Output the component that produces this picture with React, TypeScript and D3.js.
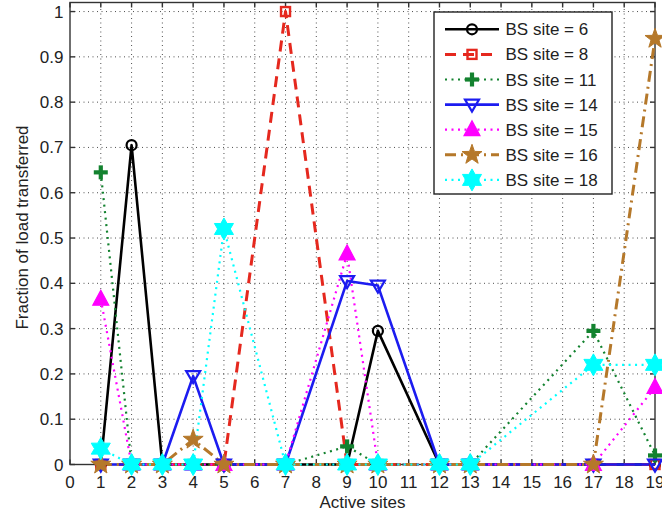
import React from "react";
import * as d3 from "d3";

const activeSites = [1, 2, 3, 4, 5, 7, 9, 10, 12, 13, 17, 19];
const bs6 = [0, 0.705, 0, 0, 0, 0, 0, 0.295, 0, 0, 0, 0];
const bs8 = [0, 0, 0, 0, 0, 1.0, 0, 0, 0, 0, 0, 0];
const bs11 = [0.645, 0, 0, 0, 0, 0, 0.04, 0, 0, 0, 0.295, 0.02];
const bs14 = [0, 0, 0, 0.195, 0, 0, 0.405, 0.395, 0, 0, 0, 0];
const bs15 = [0.365, 0, 0, 0, 0, 0, 0.465, 0, 0, 0, 0, 0.17];
const bs16 = [0, 0, 0, 0.055, 0, 0, 0, 0, 0, 0, 0, 0.94];
const bs18 = [0.035, 0, 0, 0, 0.52, 0, 0, 0, 0, 0, 0.22, 0.22];
const seriesNames = ["BS site = 6", "BS site = 8", "BS site = 11", "BS site = 14", "BS site = 15", "BS site = 16", "BS site = 18"];
const xTicks = d3.range(0, 20);
const yTicks = [0, 0.1, 0.2, 0.3, 0.4, 0.5, 0.6, 0.7, 0.8, 0.9, 1];
const xLabel = "Active sites";
const yLabel = "Fraction of load transferred";

type Style = { color: string; dash: string; width: number; marker: string };
const styles: Style[] = [
  { color: "#000000", dash: "none", width: 2.6, marker: "circle" },
  { color: "#e5281e", dash: "11,7", width: 3, marker: "square" },
  { color: "#13822f", dash: "2,4.5", width: 2.2, marker: "plus" },
  { color: "#1c1cf0", dash: "none", width: 2.6, marker: "tridown" },
  { color: "#ff00ff", dash: "2,4.5", width: 2.2, marker: "triup" },
  { color: "#b5782a", dash: "11,5,2,5", width: 3, marker: "star" },
  { color: "#00ffff", dash: "2,4.5", width: 2.2, marker: "hexagram" },
];
const allSeries = [bs6, bs8, bs11, bs14, bs15, bs16, bs18];

const FONT = "'Liberation Sans', Arial, Helvetica, sans-serif";
const W = 662, H = 518;
const left = 70, right = 655, top = 2.5, bottom = 464.5;

function starPath(n: number, ro: number, ri: number) {
  const pts: string[] = [];
  for (let i = 0; i < n * 2; i++) {
    const r = i % 2 === 0 ? ro : ri;
    const a = -Math.PI / 2 + (i * Math.PI) / n;
    pts.push(`${(r * Math.cos(a)).toFixed(2)},${(r * Math.sin(a)).toFixed(2)}`);
  }
  return "M" + pts.join("L") + "Z";
}

function Marker({ kind, color, x, y }: { kind: string; color: string; x: number; y: number }) {
  const t = `translate(${x},${y})`;
  switch (kind) {
    case "circle":
      return <circle cx={x} cy={y} r={5} fill="none" stroke={color} strokeWidth={2.2} />;
    case "square":
      return <rect x={x - 4.5} y={y - 4.5} width={9} height={9} fill="none" stroke={color} strokeWidth={2.4} />;
    case "plus":
      return (
        <g transform={t} stroke={color} strokeWidth={4.2}>
          <line x1={-7} y1={0} x2={7} y2={0} />
          <line x1={0} y1={-7} x2={0} y2={7} />
        </g>
      );
    case "tridown":
      return <path transform={t} d="M-7,-5L7,-5L0,7Z" fill="none" stroke={color} strokeWidth={2.2} />;
    case "triup":
      return <path transform={t} d="M0,-9L8,6L-8,6Z" fill={color} stroke={color} strokeWidth={1.2} />;
    case "star":
      return <path transform={t} d={starPath(5, 10.5, 4.2)} fill={color} stroke={color} strokeWidth={1} />;
    case "hexagram":
      return <path transform={t} d={starPath(6, 11, 6.3)} fill={color} stroke={color} strokeWidth={1} />;
  }
  return null;
}

export default function App() {
  const x = d3.scaleLinear().domain([0, 19]).range([left, right]);
  const y = d3.scaleLinear().domain([0, 1.02]).range([bottom, top]);
  const line = d3
    .line<number>()
    .x((_, i) => x(activeSites[i]))
    .y((d) => y(d));

  const legX = 434, legY = 12, legW = 178, legH = 182;
  const rowH = 25.1;

  return (
    <svg width={W} height={H} style={{ position: "absolute", left: 0, top: 0, background: "#fff" }} fontFamily={FONT}>
      <rect x={0} y={0} width={W} height={H} fill="#fff" />
      {/* grid */}
      <g stroke="#222" strokeWidth={0.8} strokeDasharray="1,3.5">
        {xTicks.filter((t) => t > 0 && t < 19).map((t) => (
          <line key={"gx" + t} x1={x(t)} x2={x(t)} y1={bottom} y2={top} />
        ))}
        {yTicks.filter((t) => t > 0).map((t) => (
          <line key={"gy" + t} x1={left} x2={right} y1={y(t)} y2={y(t)} />
        ))}
      </g>
      {/* axes box + ticks */}
      <g stroke="#333" strokeWidth={1.4} fill="none">
        <rect x={left} y={top} width={right - left} height={bottom - top} />
        {xTicks.map((t) => (
          <g key={"tx" + t}>
            <line x1={x(t)} x2={x(t)} y1={bottom} y2={bottom - 5} />
            <line x1={x(t)} x2={x(t)} y1={top} y2={top + 5} />
          </g>
        ))}
        {yTicks.map((t) => (
          <g key={"ty" + t}>
            <line x1={left} x2={left + 5} y1={y(t)} y2={y(t)} />
            <line x1={right} x2={right - 5} y1={y(t)} y2={y(t)} />
          </g>
        ))}
      </g>
      {/* tick labels */}
      <g fontSize={17} fill="#222">
        {xTicks.map((t) => (
          <text key={"lx" + t} x={x(t)} y={487.5} textAnchor="middle">
            {t}
          </text>
        ))}
        {yTicks.map((t) => (
          <text key={"ly" + t} x={63.5} y={y(t) + 6} textAnchor="end">
            {t === 0 || t === 1 ? String(t) : t.toFixed(1)}
          </text>
        ))}
      </g>
      <text x={(left + right) / 2} y={507.5} textAnchor="middle" fontSize={17} fill="#222">
        {xLabel}
      </text>
      <text transform={`translate(27.5,227.5) rotate(-90)`} textAnchor="middle" fontSize={17} fill="#222">
        {yLabel}
      </text>
      {/* lines */}
      {allSeries.map((s, i) => (
        <path
          key={"l" + i}
          d={line(s) || ""}
          fill="none"
          stroke={styles[i].color}
          strokeWidth={styles[i].width}
          strokeDasharray={styles[i].dash}
          strokeLinejoin="round"
        />
      ))}
      {/* markers */}
      {allSeries.map((s, i) => (
        <g key={"m" + i}>
          {s.map((v, j) => (
            <Marker key={j} kind={styles[i].marker} color={styles[i].color} x={x(activeSites[j])} y={y(v)} />
          ))}
        </g>
      ))}
      {/* legend */}
      <rect x={legX} y={legY} width={legW} height={legH} fill="#fff" stroke="#222" strokeWidth={1.4} />
      {seriesNames.map((name, i) => {
        const cy = 29.3 + i * rowH;
        return (
          <g key={"leg" + i}>
            <line
              x1={445}
              x2={499}
              y1={cy}
              y2={cy}
              stroke={styles[i].color}
              strokeWidth={styles[i].width}
              strokeDasharray={styles[i].dash}
            />
            <Marker kind={styles[i].marker} color={styles[i].color} x={472} y={cy} />
            <text x={505.5} y={cy + 6} fontSize={17} fill="#222">
              {name}
            </text>
          </g>
        );
      })}
    </svg>
  );
}
